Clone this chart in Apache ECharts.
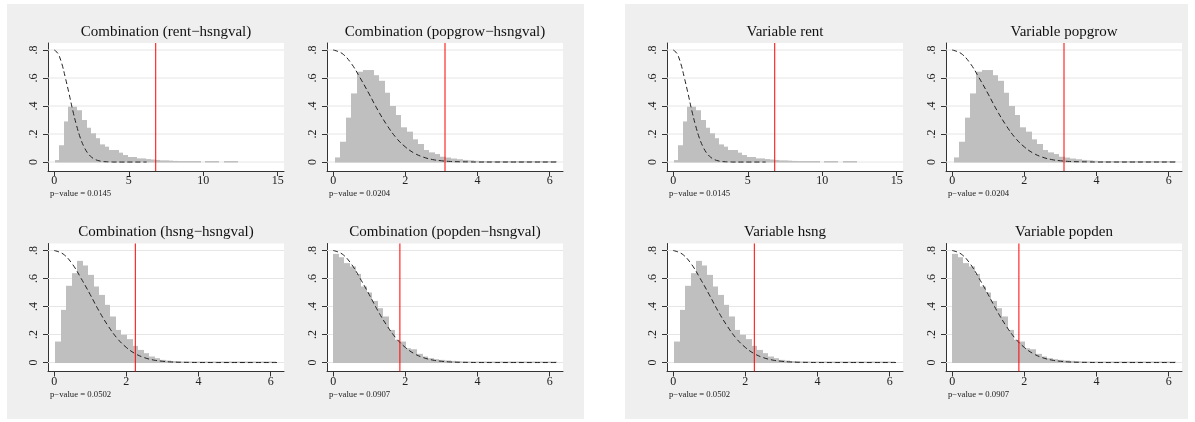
<!DOCTYPE html>
<html>
<head>
<meta charset="utf-8">
<script src="https://cdn.jsdelivr.net/npm/echarts@6/dist/echarts.min.js"></script>
<style>
html,body{margin:0;padding:0;background:#fff;}
#chart{width:1195px;height:422px;}
</style>
</head>
<body>
<div id="chart"></div>
<script>
// ---------------- data ----------------
const leftTitles = ['Combination (rent\u2212hsngval)', 'Combination (popgrow\u2212hsngval)', 'Combination (hsng\u2212hsngval)', 'Combination (popden\u2212hsngval)'];
const rightTitles = ['Variable rent', 'Variable popgrow', 'Variable hsng', 'Variable popden'];
const pValues = ['0.0145', '0.0204', '0.0502', '0.0907'];
const critValues = [6.81, 3.10, 2.25, 1.85];

// histogram bins: first edge and bin width, then density heights (40 bins)
const binStart = [0.02, 0.046, 0.03, 0.0];
const binWidth = [0.307, 0.154, 0.153, 0.155];
const histRent = [0.014, 0.12, 0.29, 0.395, 0.395, 0.37, 0.30, 0.245, 0.205, 0.17,
  0.126, 0.11, 0.086, 0.086, 0.067, 0.05, 0.036, 0.036, 0.026, 0.026,
  0.021, 0.018, 0.015, 0.012, 0.012, 0.01, 0.008, 0.006, 0.005, 0.005,
  0.004, 0.004, 0, 0.003, 0.003, 0.002, 0, 0.002, 0.002, 0.001];
const histPopgrow = [0.033, 0.145, 0.317, 0.49, 0.645, 0.657, 0.657, 0.62, 0.58, 0.495,
  0.40, 0.336, 0.248, 0.217, 0.162, 0.129, 0.086, 0.069, 0.057, 0.038,
  0.032, 0.025, 0.02, 0.015, 0.012, 0.009, 0.007, 0.006, 0.005, 0.004,
  0.003, 0.003, 0.002, 0.002, 0.002, 0.001, 0.001, 0.001, 0.001, 0.001];
const histHsng = [0.15, 0.376, 0.548, 0.638, 0.726, 0.693, 0.626, 0.543, 0.483, 0.412,
  0.329, 0.233, 0.198, 0.167, 0.119, 0.09, 0.067, 0.043, 0.031, 0.019,
  0.014, 0.011, 0.008, 0.006, 0.005, 0.004, 0.003, 0.002, 0.002, 0.002,
  0.001, 0.001, 0.001, 0.001, 0.001, 0.001, 0.001, 0.001, 0.001, 0.001];
const histPopden = [0.776, 0.752, 0.71, 0.686, 0.633, 0.543, 0.50, 0.44, 0.388, 0.329,
  0.233, 0.162, 0.15, 0.102, 0.095, 0.062, 0.043, 0.031, 0.024, 0.019,
  0.015, 0.012, 0.009, 0.007, 0.005, 0.004, 0.003, 0.002, 0.002, 0.001,
  0.001, 0.001, 0.001, 0.001, 0.001, 0.001, 0.001, 0.001, 0.001, 0.001];
const histAll = [histRent, histPopgrow, histHsng, histPopden];

// reference density curve (dashed)
const curveX = [0, 0.25, 0.5, 0.75, 1, 1.25, 1.5, 1.75, 2, 2.25, 2.5, 2.75, 3, 3.25, 3.5, 3.75, 4, 4.5, 5, 5.5, 6, 6.2];
const curveY = [0.80, 0.775, 0.705, 0.60, 0.485, 0.365, 0.26, 0.172, 0.108, 0.063, 0.035, 0.018, 0.009, 0.004, 0.002, 0.001, 0, 0, 0, 0, 0, 0];

// axis ticks
const xTicksRent = [0, 5, 10, 15];
const xTicksOther = [0, 2, 4, 6];
const yTicks = [0, 0.2, 0.4, 0.6, 0.8];

// ---------------- layout ----------------
const panelShift = 619;
const colLeft = [48, 327];
const rowTop = [43, 243.5];
const plotW = 236, plotH = 128;
const xRange = [[-0.42, 15.42], [-0.17, 6.37], [-0.17, 6.37], [-0.17, 6.37]];
const yMin = -0.064, yMax = 0.85;
const FONT = '"Liberation Serif", "Times New Roman", serif';
const axisColor = '#333';

const grids = [], xAxes = [], yAxes = [], series = [], graphics = [];

graphics.push({type:'rect', z:-10, shape:{x:7, y:4, width:577, height:415}, style:{fill:'#efefef'}});
graphics.push({type:'rect', z:-10, shape:{x:625, y:4, width:563, height:415}, style:{fill:'#efefef'}});

function yFmt(v){ if (Math.abs(v) < 1e-9) return '0'; return String(+v.toFixed(1)).replace(/^0\./, '.'); }

let gi = 0;
for (let panel = 0; panel < 2; panel++) {
  for (let k = 0; k < 4; k++) {
    const r = Math.floor(k / 2), c = k % 2;
    const left = colLeft[c] + panel * panelShift;
    const top = rowTop[r];
    grids.push({left: left, top: top, width: plotW, height: plotH, show: true, backgroundColor: '#fff', borderWidth: 0});
    const xt = k === 0 ? xTicksRent : xTicksOther;
    const xr = xRange[k];
    xAxes.push({
      gridIndex: gi, type: 'value', min: xr[0], max: xr[1],
      axisLine: {show: true, onZero: false, lineStyle: {color: axisColor, width: 1}},
      axisTick: {show: true, inside: false, length: 5, customValues: xt, lineStyle: {color: axisColor}},
      axisLabel: {customValues: xt, fontFamily: FONT, fontSize: 12, color: '#222', margin: 4},
      splitLine: {show: false}
    });
    yAxes.push({
      gridIndex: gi, type: 'value', min: yMin, max: yMax,
      axisLine: {show: true, onZero: false, lineStyle: {color: axisColor, width: 1}},
      axisTick: {show: true, inside: false, length: 5, customValues: yTicks, lineStyle: {color: axisColor}},
      axisLabel: {customValues: yTicks, rotate: 90, formatter: yFmt, fontFamily: FONT, fontSize: 12, color: '#222', margin: 8},
      splitLine: {show: false}
    });
    // horizontal gridlines at the y ticks
    yTicks.forEach(v => {
      series.push({
        type: 'line', xAxisIndex: gi, yAxisIndex: gi, z: 1, silent: true, symbol: 'none',
        data: [[xr[0], v], [xr[1], v]],
        lineStyle: {color: '#e6e6e6', width: 1, type: 'solid'}, itemStyle: {color: '#e6e6e6'}
      });
    });
    // histogram
    const hs = histAll[k], s0 = binStart[k], w = binWidth[k];
    series.push({
      type: 'custom', xAxisIndex: gi, yAxisIndex: gi, z: 2, silent: true,
      data: hs.map((h, i) => [s0 + i * w, s0 + (i + 1) * w, h]),
      encode: {x: [0, 1], y: 2},
      renderItem: function (params, api) {
        const h = api.value(2);
        if (h <= 0) return null;
        const p0 = api.coord([api.value(0), h]);
        const p1 = api.coord([api.value(1), 0]);
        const x0 = Math.round(p0[0]), x1 = Math.round(p1[0]);
        const yb = p1[1] + 0.5;
        let yt = Math.min(p0[1], yb - 1.5);
        return {type: 'rect', shape: {x: x0, y: yt, width: x1 - x0, height: yb - yt},
          style: {fill: '#bfbfbf'}};
      }
    });
    // density curve
    series.push({
      type: 'line', xAxisIndex: gi, yAxisIndex: gi, z: 4, silent: true,
      data: curveX.map((x, i) => [x, curveY[i]]), symbol: 'none', smooth: 0.4,
      lineStyle: {color: '#222', width: 1, type: [5, 3]}, itemStyle: {color: '#222'}
    });
    // critical value
    series.push({
      type: 'line', xAxisIndex: gi, yAxisIndex: gi, z: 5, silent: true, symbol: 'none',
      data: [[critValues[k], yMin], [critValues[k], yMax]],
      lineStyle: {color: '#ff0000', width: 1, type: 'solid'}, itemStyle: {color: '#ff0000'}
    });
    // title and p-value text
    const titles = panel === 0 ? leftTitles : rightTitles;
    graphics.push({type: 'text', z: 10, style: {text: titles[k], x: left + plotW / 2, y: top - 11,
      textAlign: 'center', textVerticalAlign: 'middle', font: '15px ' + FONT, fill: '#111'}});
    graphics.push({type: 'text', z: 10, style: {text: 'p\u2212value = ' + pValues[k], x: left + 2, y: top + plotH + 23,
      textAlign: 'left', textVerticalAlign: 'middle', font: '8.7px ' + FONT, fill: '#222'}});
    gi++;
  }
}

const chart = echarts.init(document.getElementById('chart'), null, {renderer: 'canvas'});
chart.setOption({
  animation: false,
  backgroundColor: '#fff',
  grid: grids, xAxis: xAxes, yAxis: yAxes, series: series, graphic: graphics
});
</script>
</body>
</html>
